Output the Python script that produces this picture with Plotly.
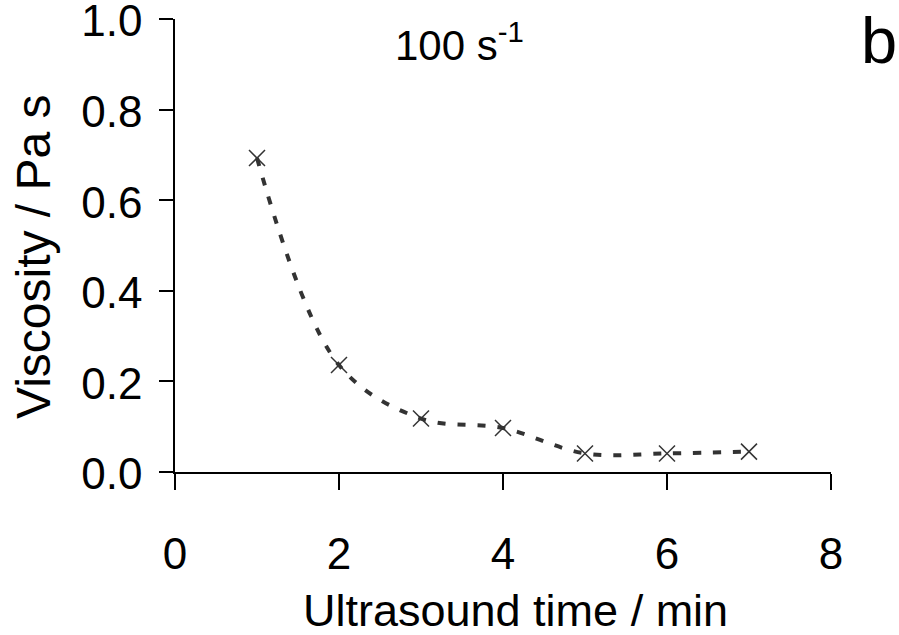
import plotly.graph_objects as go

time_min = [1, 2, 3, 4, 5, 6, 7]
viscosity = [0.693, 0.236, 0.118, 0.097, 0.041, 0.041, 0.045]
x_ticks = [0, 2, 4, 6, 8]
y_ticks = [0.0, 0.2, 0.4, 0.6, 0.8, 1.0]
y_tick_labels = ["0.0", "0.2", "0.4", "0.6", "0.8", "1.0"]

FONT = "Liberation Sans, Arial, Helvetica, sans-serif"
L, R, T, B = 175, 68, 19, 163
W, H = 899, 635
PW, PH = W - L - R, H - T - B


def px(xp):
    return (xp - L) / PW


def py(yp):
    return (H - B - yp) / PH


fig = go.Figure()
fig.add_trace(go.Scatter(
    x=time_min, y=viscosity, mode="lines",
    line=dict(color="#333333", width=4, dash="8px,12px", shape="spline", smoothing=1.0),
    showlegend=False, hoverinfo="skip"))
fig.add_trace(go.Scatter(
    x=time_min, y=viscosity, mode="markers",
    marker=dict(symbol="x-thin-open", size=16, color="#333333",
                line=dict(color="#333333", width=1.5)),
    showlegend=False))

fig.update_layout(
    width=W, height=H,
    margin=dict(l=L, r=R, t=T, b=B, autoexpand=False),
    plot_bgcolor="white", paper_bgcolor="white",
    font=dict(family=FONT, color="black", size=44),
    xaxis=dict(range=[0, 8], tickvals=x_ticks, showline=True, linecolor="black", linewidth=1.5,
               ticks="outside", ticklen=16, tickwidth=1.5, tickcolor="black",
               showgrid=False, zeroline=False, tickfont=dict(size=44), automargin=False,
               ticklabelstandoff=26, ticklabeloverflow="allow"),
    yaxis=dict(range=[0, 1], tickvals=y_ticks, ticktext=y_tick_labels, showline=True,
               linecolor="black", linewidth=1.5, ticks="outside", ticklen=14, tickwidth=1.5,
               tickcolor="black", showgrid=False, zeroline=False, tickfont=dict(size=44),
               automargin=False,
               ticklabelstandoff=8, ticklabelshift=2, ticklabeloverflow="allow"),
    annotations=[
        dict(text="Ultrasound time / min", x=px(515), y=py(610), xref="paper", yref="paper",
             xanchor="center", yanchor="middle", showarrow=False, font=dict(size=45)),
        dict(text="Viscosity / Pa s", x=px(33), y=py(257), xref="paper", yref="paper",
             xanchor="center", yanchor="middle", showarrow=False, textangle=-90,
             font=dict(size=48)),
        dict(text="100 s<sup>-1</sup>", x=px(459), y=py(42), xref="paper", yref="paper",
             xanchor="center", yanchor="middle", showarrow=False, font=dict(size=42)),
        dict(text="b", x=px(879), y=py(40), xref="paper", yref="paper",
             xanchor="center", yanchor="middle", showarrow=False, font=dict(size=65)),
    ],
)
fig.write_html("out.html")
